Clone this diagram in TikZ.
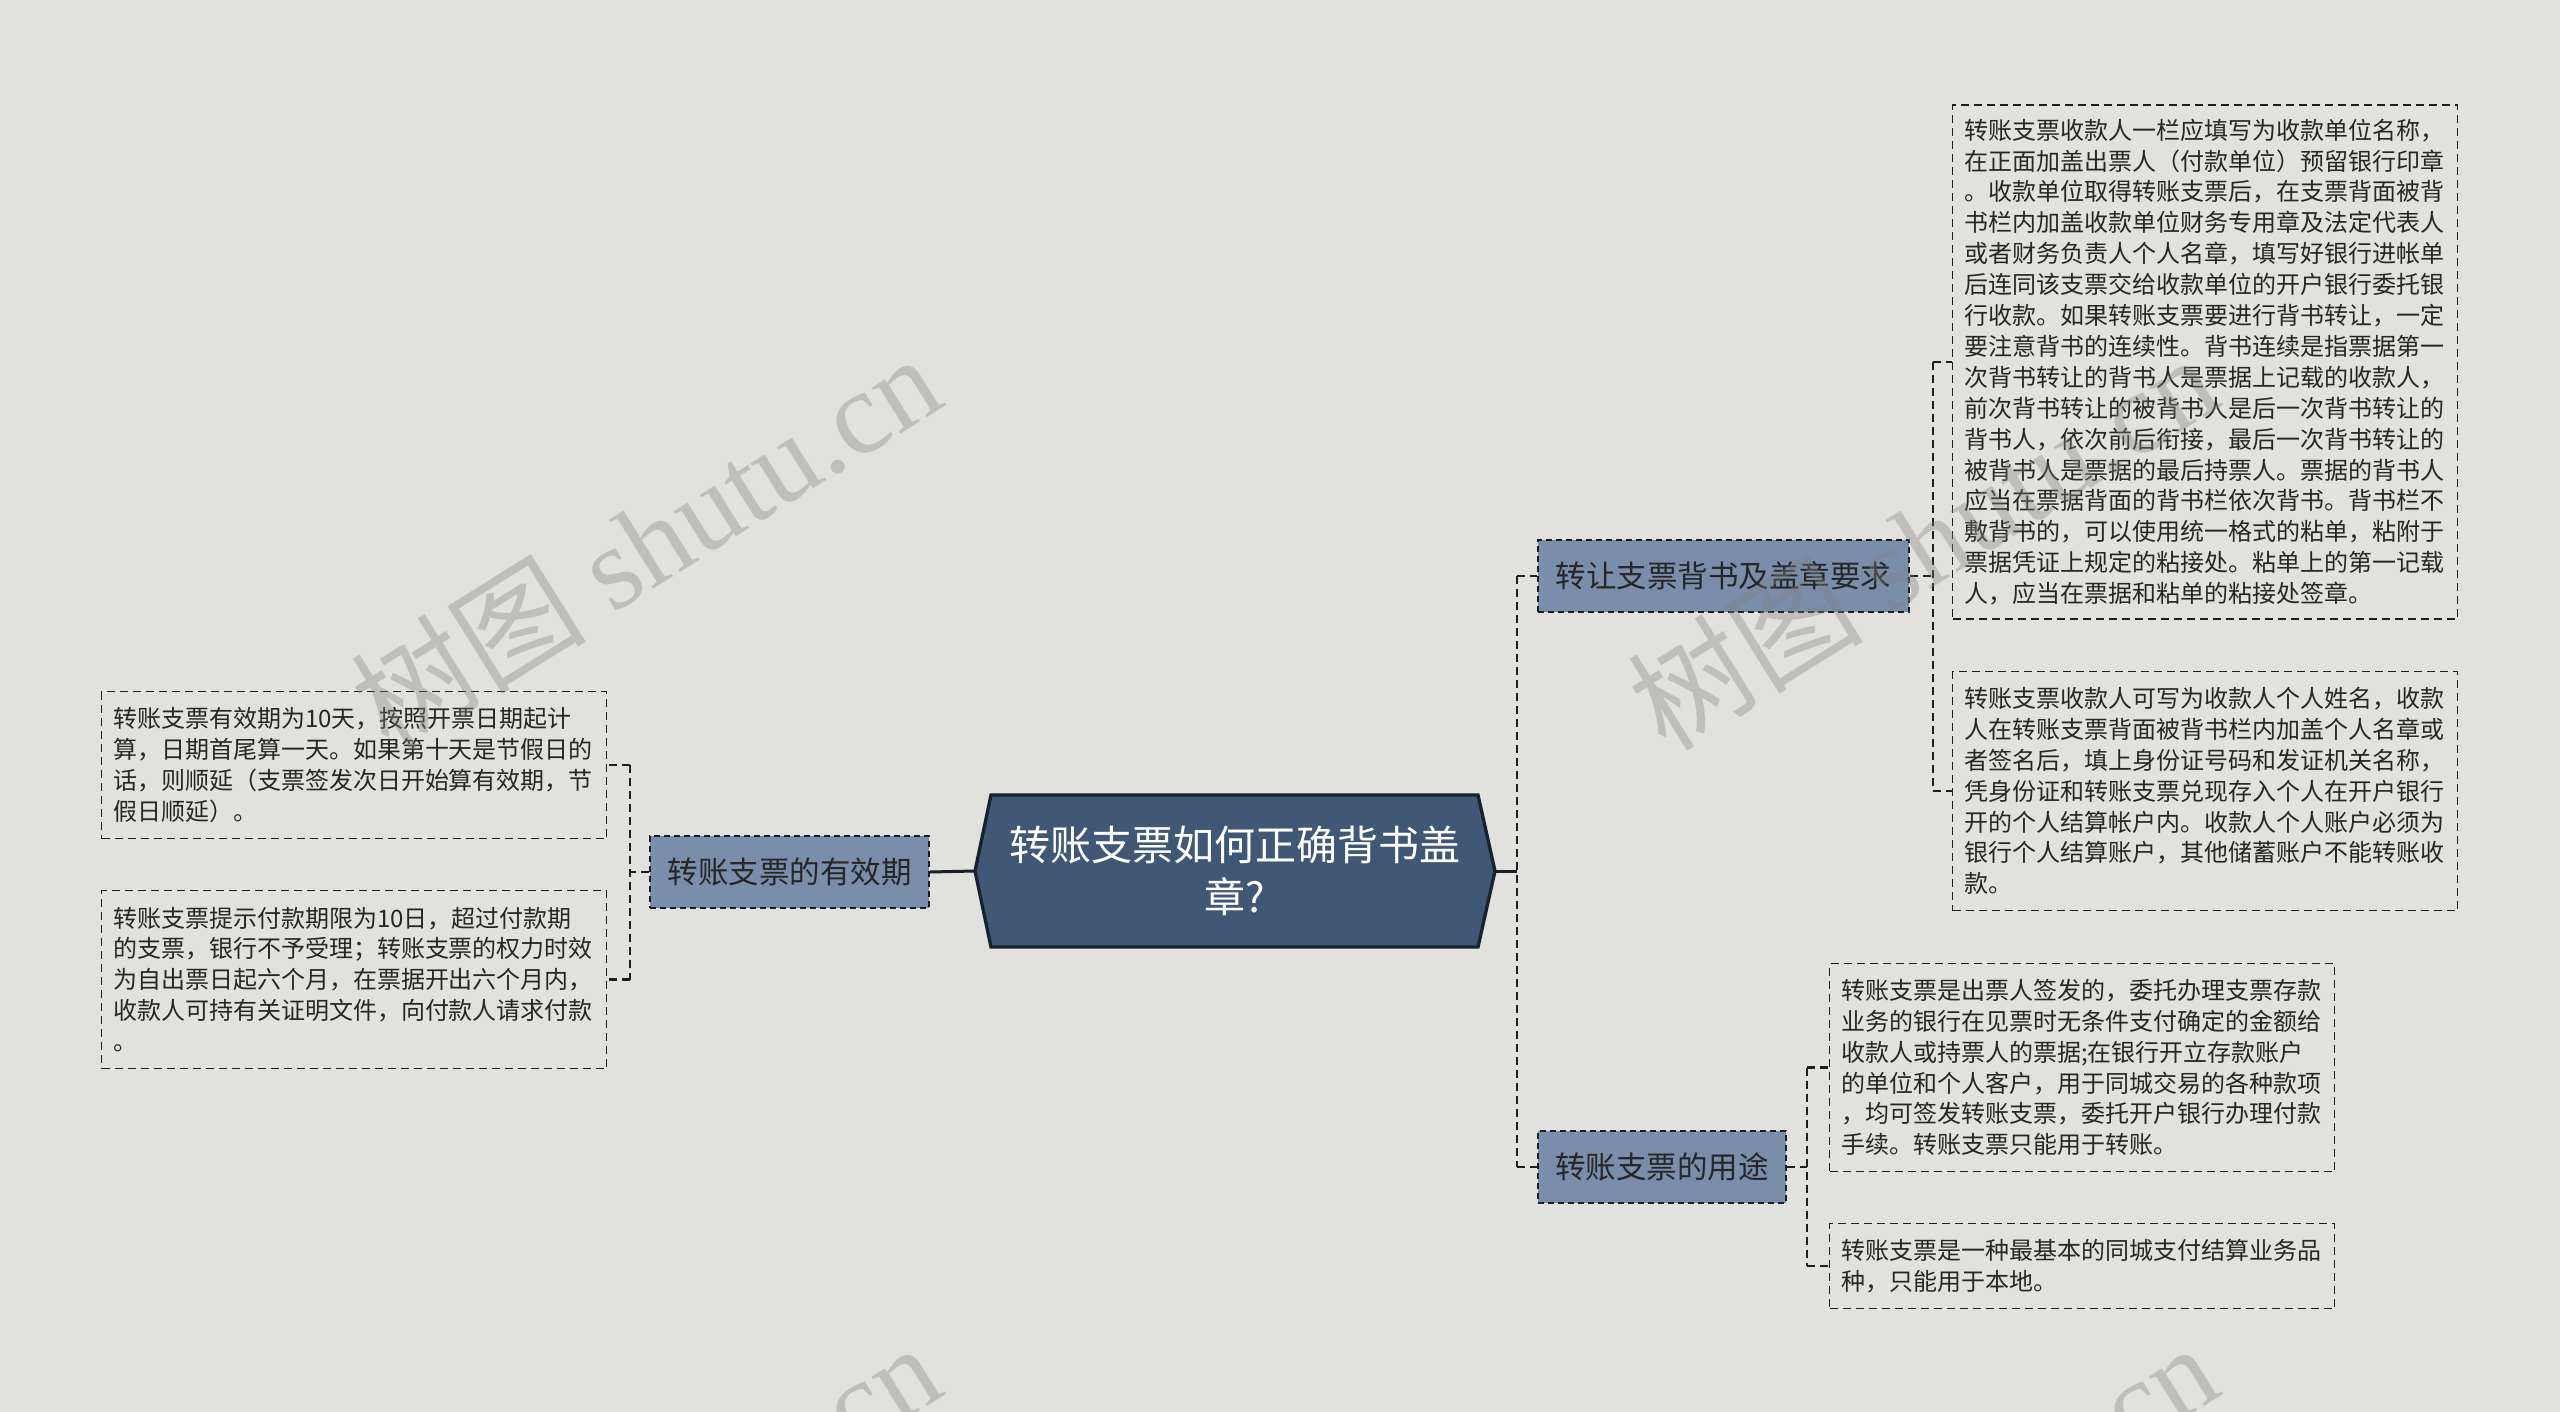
\documentclass[tikz,border=0pt]{standalone}
\usepackage{fontspec}
\setmainfont{Noto Sans CJK SC}
\newfontfamily\wmlatin{Liberation Serif}
\definecolor{bgc}{HTML}{E1E1DD}
\definecolor{rootfill}{HTML}{405876}
\definecolor{rootdraw}{HTML}{17222F}
\definecolor{lonefill}{HTML}{7A8DAB}
\definecolor{linec}{HTML}{1A1F26}
\definecolor{txt}{HTML}{262626}
\tikzset{
  leaf/.style={draw=linec, line width=1.8pt, dash pattern=on 8pt off 5pt, fill=bgc, text=txt,
    text width=482pt, align=left, inner xsep=11.5pt, inner ysep=0pt,
    font=\fontsize{24pt}{30.9pt}\selectfont},
  topic/.style={draw=linec, line width=1.8pt, dash pattern=on 6pt off 4pt, fill=lonefill, text=txt,
    font=\fontsize{30.5pt}{36pt}\selectfont, inner sep=0pt},
  conn/.style={draw=linec, line width=2.4pt, dash pattern=on 8pt off 5pt},
  stem/.style={draw=linec, line width=3pt},
  wm/.style={text=gray, text opacity=0.36, rotate=32, anchor=base, inner sep=0pt,
    font=\fontsize{118pt}{118pt}\selectfont}
}
\begin{document}
\begin{tikzpicture}[x=1pt,y=-1pt]
\useasboundingbox (0,0) rectangle (2560,1412);
\fill[bgc] (0,0) rectangle (2560,1412);

% root
\filldraw[fill=rootfill, draw=rootdraw, line width=3.3pt, line join=miter]
  (975,871) -- (991,795) -- (1478,795) -- (1495,871) -- (1478,947) -- (991,947) -- cycle;
\node[text=white, align=center, inner sep=0pt, font=\fontsize{41pt}{52pt}\selectfont] (root) at (1235,871)
  {转账支票如何正确背书盖\\章?};
\coordinate (rootL) at (975,871);
\coordinate (rootR) at (1495,871);

% level 1
\node[topic, minimum width=371pt, minimum height=72pt] (n1) at (1723.5,576) {转让支票背书及盖章要求};
\node[topic, minimum width=279pt, minimum height=72pt] (n2) at (789.5,872) {转账支票的有效期};
\node[topic, minimum width=248pt, minimum height=72pt] (n3) at (1662,1167) {转账支票的用途};

% leaves
\node[leaf, minimum height=514pt] (R1) at (2205,362) {转账支票收款人一栏应填写为收款单位名称，\\
在正面加盖出票人（付款单位）预留银行印章\\
。收款单位取得转账支票后，在支票背面被背\\
书栏内加盖收款单位财务专用章及法定代表人\\
或者财务负责人个人名章，填写好银行进帐单\\
后连同该支票交给收款单位的开户银行委托银\\
行收款。如果转账支票要进行背书转让，一定\\
要注意背书的连续性。背书连续是指票据第一\\
次背书转让的背书人是票据上记载的收款人，\\
前次背书转让的被背书人是后一次背书转让的\\
背书人，依次前后衔接，最后一次背书转让的\\
被背书人是票据的最后持票人。票据的背书人\\
应当在票据背面的背书栏依次背书。背书栏不\\
敷背书的，可以使用统一格式的粘单，粘附于\\
票据凭证上规定的粘接处。粘单上的第一记载\\
人，应当在票据和粘单的粘接处签章。};
\node[leaf, minimum height=239pt] (R2) at (2205,791) {转账支票收款人可写为收款人个人姓名，收款\\
人在转账支票背面被背书栏内加盖个人名章或\\
者签名后，填上身份证号码和发证机关名称，\\
凭身份证和转账支票兑现存入个人在开户银行\\
开的个人结算帐户内。收款人个人账户必须为\\
银行个人结算账户，其他储蓄账户不能转账收\\
款。};
\node[leaf, minimum height=208pt] (U1) at (2082,1067.5) {转账支票是出票人签发的，委托办理支票存款\\
业务的银行在见票时无条件支付确定的金额给\\
收款人或持票人的票据;在银行开立存款账户\\
的单位和个人客户，用于同城交易的各种款项\\
，均可签发转账支票，委托开户银行办理付款\\
手续。转账支票只能用于转账。};
\node[leaf, minimum height=85pt] (U2) at (2082,1266) {转账支票是一种最基本的同城支付结算业务品\\
种，只能用于本地。};
\node[leaf, minimum height=147pt] (L1) at (354,765) {转账支票有效期为10天，按照开票日期起计\\
算，日期首尾算一天。如果第十天是节假日的\\
话，则顺延（支票签发次日开始算有效期，节\\
假日顺延）。};
\node[leaf, minimum height=178pt] (L2) at (354,979.5) {转账支票提示付款期限为10日，超过付款期\\
的支票，银行不予受理；转账支票的权力时效\\
为自出票日起六个月，在票据开出六个月内，\\
收款人可持有关证明文件，向付款人请求付款\\
。};

% connectors: root to level 1
\coordinate (busR) at (1517,871);
\draw[stem] (rootR) -- (busR);
\draw[conn] (busR |- n1.west) -- (busR |- n3.west);
\draw[conn] (busR |- n1.west) -- (n1.west);
\draw[conn] (busR |- n3.west) -- (n3.west);
\draw[stem] (rootL) -- (n2.east);

% left branch
\coordinate (busL) at (630,872);
\draw[conn] (n2.west) -- (busL);
\draw[conn] (busL |- L1.east) -- (busL |- L2.east);
\draw[conn] (busL |- L1.east) -- (L1.east);
\draw[conn] (busL |- L2.east) -- (L2.east);

% n1 branch
\coordinate (busA) at (1933,576);
\draw[conn] (n1.east) -- (busA);
\draw[conn] (busA |- R1.west) -- (busA |- R2.west);
\draw[conn] (busA |- R1.west) -- (R1.west);
\draw[conn] (busA |- R2.west) -- (R2.west);

% n3 branch
\coordinate (busB) at (1807,1167);
\draw[conn] (n3.east) -- (busB);
\draw[conn] (busB |- U1.west) -- (busB |- U2.west);
\draw[conn] (busB |- U1.west) -- (U1.west);
\draw[conn] (busB |- U2.west) -- (U2.west);

% watermarks
\begin{scope}
\clip (0,0) rectangle (2560,1412);
\node[wm] (wmA) at (669,579) {树图 {\wmlatin shutu.cn}};
\node[wm] (wmB) at (1946,579) {树图 {\wmlatin shutu.cn}};
\node[wm] (wmC) at (669,1568) {树图 {\wmlatin shutu.cn}};
\node[wm] (wmD) at (1946,1568) {树图 {\wmlatin shutu.cn}};
\end{scope}
\end{tikzpicture}
\end{document}
